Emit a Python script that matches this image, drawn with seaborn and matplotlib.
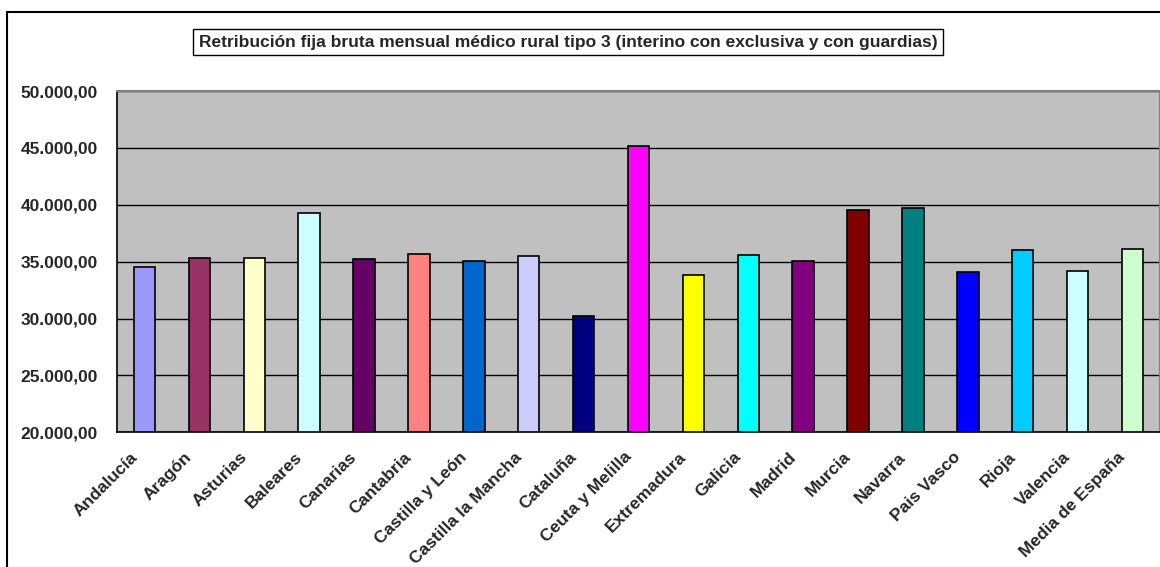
import matplotlib
matplotlib.use("Agg")
import matplotlib.pyplot as plt
import seaborn as sns
import pandas as pd
from matplotlib.ticker import FuncFormatter, MultipleLocator
from matplotlib.patches import Rectangle
from matplotlib.transforms import ScaledTranslation

categories = ["Andalucía", "Aragón", "Asturias", "Baleares", "Canarias", "Cantabria",
              "Castilla y León", "Castilla la Mancha", "Cataluña", "Ceuta y Melilla",
              "Extremadura", "Galicia", "Madrid", "Murcia", "Navarra", "Pais Vasco",
              "Rioja", "Valencia", "Media de España"]
values = [34500, 35300, 35300, 39260, 35240, 35650, 35030, 35500, 30210, 45200,
          33860, 35620, 35030, 39500, 39680, 34070, 36060, 34150, 36090]
colors = ["#9999FF", "#993366", "#FFFFCC", "#CCFFFF", "#660066", "#FF8080",
          "#0066CC", "#CCCCFF", "#000080", "#FF00FF", "#FFFF00", "#00FFFF",
          "#800080", "#800000", "#008080", "#0000FF", "#00CCFF", "#CCFFFF", "#CCFFCC"]
title = "Retribución fija bruta mensual médico rural tipo 3 (interino con exclusiva y con guardias)"

sns.set_style("white")
plt.rcParams['font.family'] = ['Liberation Sans', 'DejaVu Sans']
plt.rcParams['font.weight'] = 'bold'

df = pd.DataFrame({"cat": categories, "val": values})

W, H = 1160, 567
fig = plt.figure(figsize=(W / 100, H / 100), dpi=100)
ax = fig.add_axes([117 / W, 1 - 432.3 / H, (1160 - 117) / W, (432.3 - 91) / H])

sns.barplot(data=df, x="cat", y="val", hue="cat", palette=colors, legend=False,
            width=0.39, edgecolor="black", linewidth=1.2, ax=ax, saturation=1)

ax.set_facecolor("#C0C0C0")
ax.set_ylim(20000, 50000)
ax.set_xlim(-0.5, len(categories) - 0.5)
ax.yaxis.set_major_locator(MultipleLocator(5000))

def fmt(v, pos):
    s = f"{v:,.2f}"
    return s.replace(",", "X").replace(".", ",").replace("X", ".")

ax.yaxis.set_major_formatter(FuncFormatter(fmt))
ax.grid(axis="y", color="black", linewidth=1.0)
ax.set_axisbelow(True)
ax.set_xlabel("")
ax.set_ylabel("")

for s in ["top", "right"]:
    ax.spines[s].set_color("#808080")
    ax.spines[s].set_linewidth(1.5)
for s in ["left", "bottom"]:
    ax.spines[s].set_color("black")
    ax.spines[s].set_linewidth(1.2)

# category-boundary ticks on x axis (Excel style)
ax.set_xticks([i - 0.5 for i in range(len(categories) + 1)], minor=False)
ax.set_xticklabels([""] * (len(categories) + 1))
ax.set_xticks(range(len(categories)), minor=True)
ax.set_xticklabels(categories, minor=True, rotation=45, ha="right", va="top",
                   rotation_mode="anchor", fontsize=12.5, fontweight="bold")
ax.tick_params(axis="x", which="major", direction="out", length=6, width=1, color="#404040")
ax.tick_params(axis="x", which="minor", length=0, pad=8)
ax.tick_params(axis="y", direction="out", length=6, width=1, color="black", labelsize=12.5, pad=8)
for lbl in ax.get_yticklabels():
    lbl.set_fontweight("bold")
off = ScaledTranslation(-15 / 100, -6 / 100, fig.dpi_scale_trans)
for lbl in ax.get_xticklabels(minor=True):
    lbl.set_transform(lbl.get_transform() + off)

# outer chart frame
fig.patches.append(Rectangle((7 / W, -0.1), 1.2, 1 - 12 / H + 0.1, transform=fig.transFigure,
                             fill=False, edgecolor="black", linewidth=1.5))

fig.text(568 / W, 1 - 42 / H, title, ha="center", va="center", fontsize=12.5,
         fontweight="bold",
         bbox=dict(boxstyle="square,pad=0.3", facecolor="white", edgecolor="black", linewidth=1))

fig.savefig("out.png", dpi=100, facecolor="white")
